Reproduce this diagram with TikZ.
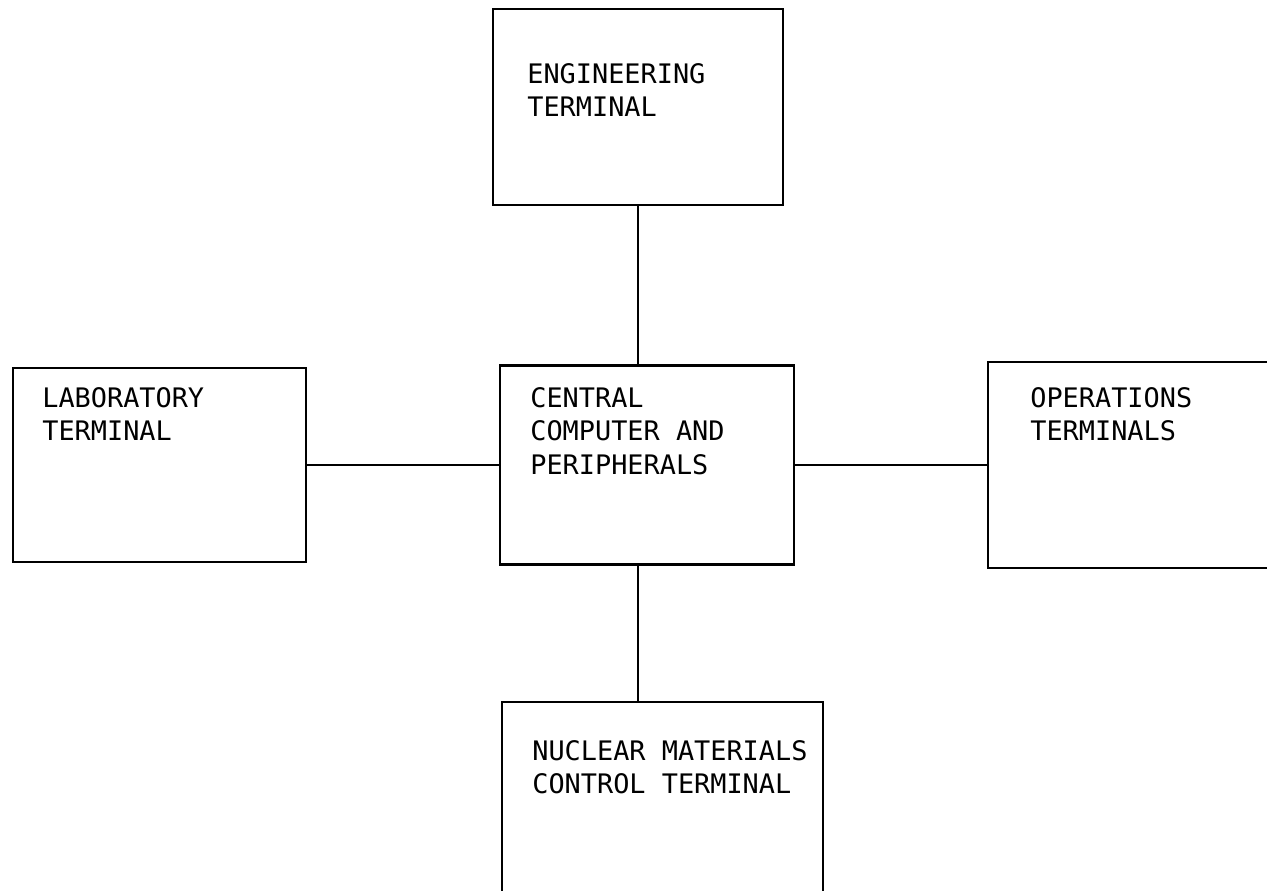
\documentclass[tikz,border=0pt]{standalone}
\usepackage{fontspec}
\setmonofont{DejaVu Sans Mono}
\usetikzlibrary{positioning}
\begin{document}
\begin{tikzpicture}[
    x=0.02cm,y=-0.02cm,
    box/.style={draw=black,line width=1.4pt,rectangle,inner sep=0pt},
    boxtext/.style={anchor=north west,inner sep=0pt,align=left,font=\ttfamily\fontsize{15.3}{19}\selectfont},
    link/.style={line width=1.2pt,draw=black}
  ]
    \useasboundingbox (0,0) rectangle (1267,890);
    \clip (0,0) rectangle (1267,890);
    \node[box,minimum width=5.8cm,minimum height=3.92cm] (eng) at (638,107) {};
    \node[box,minimum width=5.86cm,minimum height=3.88cm] (lab) at (159.5,465) {};
    \node[box,minimum width=5.88cm,minimum height=3.98cm] (central) at (647,465) {};
    \node[box,minimum width=6.2cm,minimum height=4.12cm] (ops) at (1143,465) {};
    \node[box,minimum width=6.42cm,minimum height=4.16cm] (nuc) at (662.5,806) {};
    \node[boxtext] (engtxt) at (527,63) {ENGINEERING\\TERMINAL};
    \node[boxtext] (labtxt) at (42,387) {LABORATORY\\TERMINAL};
    \node[boxtext] (centraltxt) at (530,387) {CENTRAL\\COMPUTER AND\\PERIPHERALS};
    \node[boxtext] (opstxt) at (1030,387) {OPERATIONS\\TERMINALS};
    \node[boxtext] (nuctxt) at (532,740) {NUCLEAR MATERIALS\\CONTROL TERMINAL};
    \draw[link] (eng.south) -- (eng.south |- central.north);
    \draw[link] (lab.east) -- (central.west);
    \draw[link] (central.east) -- (ops.west);
    \draw[link] (central.south -| eng.south) -- (nuc.north -| eng.south);
  \end{tikzpicture}
\end{document}
